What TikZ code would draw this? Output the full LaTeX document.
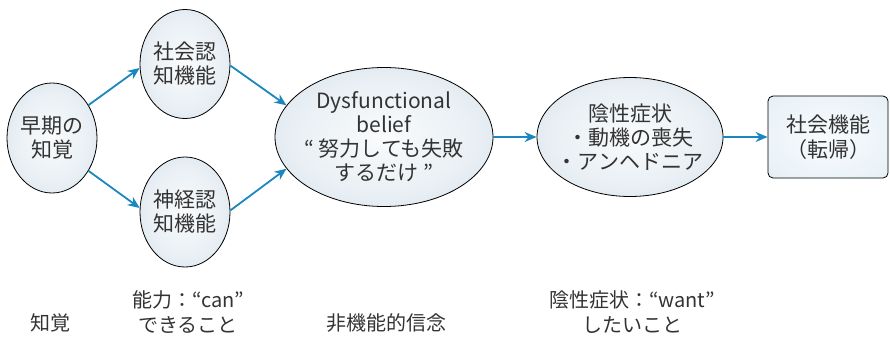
\documentclass[tikz,border=0pt]{standalone}
\usepackage{fontspec}
\setmainfont{Noto Sans CJK JP}
\usetikzlibrary{shapes.geometric,arrows.meta}
\definecolor{ellc}{HTML}{BDD0DE}
\definecolor{boxc}{HTML}{CFE2EF}
\definecolor{arrc}{HTML}{1A87BF}
\definecolor{txt}{HTML}{333333}
\pgfdeclareradialshading{ellsh}{\pgfpoint{0bp}{0bp}}{color(0bp)=(white!92!ellc); color(22bp)=(white!65!ellc); color(50bp)=(ellc); color(60bp)=(ellc)}
\pgfdeclareradialshading{boxsh}{\pgfpoint{0bp}{0bp}}{color(0bp)=(white!85!boxc); color(30bp)=(white!55!boxc); color(50bp)=(boxc); color(72bp)=(boxc)}
\tikzset{
  ell/.style={ellipse, draw=black, line width=0.8pt, shading=ellsh, inner sep=-30pt, align=center, text=txt, font=\fontsize{21}{24}\selectfont},
  rbox/.style={rectangle, rounded corners=5pt, draw=black, line width=0.8pt, shading=boxsh, inner sep=0pt, align=center, text=txt, font=\fontsize{21}{25}\selectfont},
  lab/.style={align=center, text=txt, inner sep=0pt, font=\fontsize{20}{25}\selectfont},
  arr/.style={draw=arrc, line width=1.8pt, -{Stealth[length=12pt,width=10pt]}}
}
\begin{document}
\begin{tikzpicture}[x=1pt,y=-1pt]
\useasboundingbox (0,0) rectangle (890,337);
\node[ell, minimum width=90pt, minimum height=110pt] (p) at (52,138) {早期の\\知覚};
\node[ell, minimum width=90pt, minimum height=109pt] (s) at (185,64) {社会認\\知機能};
\node[ell, minimum width=90pt, minimum height=110pt] (n) at (185,212) {神経認\\知機能};
\node[ell, minimum width=218pt, minimum height=139pt] (d) at (384,137) {Dysfunctional\\belief\\“ 努力しても失敗\\するだけ ”};
\node[ell, minimum width=186pt, minimum height=119pt] (y) at (630,137) {陰性症状\\・動機の喪失\\・アンヘドニア};
\node[rbox, minimum width=120pt, minimum height=82pt] (b) at (828,137) {社会機能\\（転帰）};
\draw[arr] (p.42) -- (s.185);
\draw[arr] (p.318) -- (n.175);
\draw[arr] (s.358) -- (d.162);
\draw[arr] (n.2) -- (d.198);
\draw[arr] (d.east) -- (y.west);
\draw[arr] (y.east) -- (b.west);
\node[lab] (l1) at (50,323) {知覚};
\node[lab] (l2) at (188,312) {能力：“can”\\できること};
\node[lab] (l3) at (386,323) {非機能的信念};
\node[lab] (l4) at (632,312) {陰性症状：“want”\\したいこと};
\end{tikzpicture}
\end{document}
